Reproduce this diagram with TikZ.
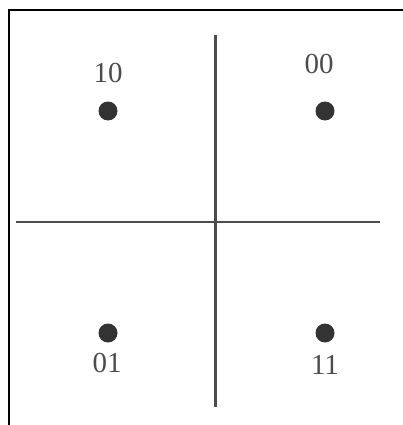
\documentclass[tikz,border=0pt]{standalone}
\usepackage{fontspec}
\setmainfont{Liberation Serif}
\begin{document}
\begin{tikzpicture}[x=1pt,y=-1pt,
  axis/.style={draw=black!70,line width=2.2pt},
  frame/.style={draw=black,line width=2pt},
  pt/.style={circle,fill=black!80,inner sep=0pt,minimum size=19pt},
  lbl/.style={text=black!70,font=\fontsize{29}{31}\selectfont,inner sep=0pt}]
\useasboundingbox (0,0) rectangle (403,425);
\coordinate (fa) at (9,425);
\coordinate (fb) at (9,10);
\coordinate (fc) at (403,10);
\draw[frame] (fa) -- (fb) -- (fc);
\coordinate (hl) at (16,222);
\coordinate (hr) at (380,222);
\coordinate (vt) at (215.5,35);
\coordinate (vb) at (215.5,407);
\draw[axis] (hl) -- (hr);
\draw[axis] (vt) -- (vb);
\node[pt] (p10) at (108,111) {};
\node[pt] (p00) at (325,111) {};
\node[pt] (p01) at (108,333) {};
\node[pt] (p11) at (325,333) {};
\node[lbl] (l10) at (108,73) {10};
\node[lbl] (l00) at (319,64) {00};
\node[lbl] (l01) at (107,363) {01};
\node[lbl] (l11) at (325,365) {11};
\end{tikzpicture}
\end{document}
